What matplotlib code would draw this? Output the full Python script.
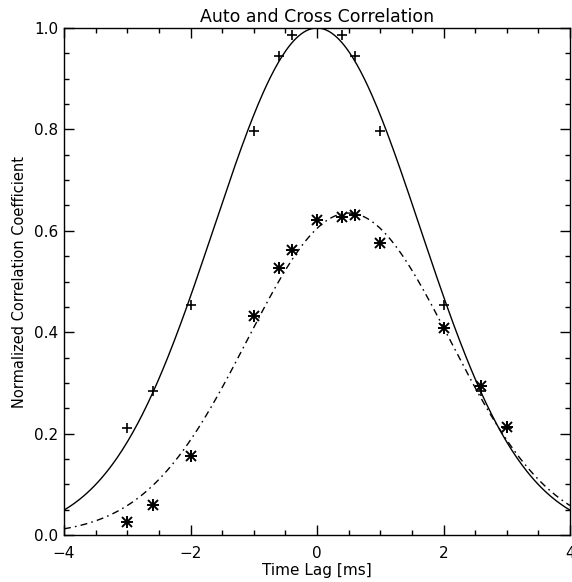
import numpy as np
import matplotlib
matplotlib.use("Agg")
import matplotlib.pyplot as plt
from matplotlib.ticker import MultipleLocator, FormatStrFormatter

# Data
auto_lag = [-3.0, -2.6, -2.0, -1.0, -0.6, -0.4, 0.4, 0.6, 1.0, 2.0, 2.6, 3.0]
auto_val = [0.212, 0.285, 0.454, 0.797, 0.945, 0.987, 0.987, 0.945, 0.797, 0.454, 0.285, 0.212]

cross_lag = [-3.0, -2.6, -2.0, -1.0, -0.6, -0.4, 0.0, 0.4, 0.6, 1.0, 2.0, 2.6, 3.0]
cross_val = [0.026, 0.060, 0.156, 0.431, 0.526, 0.563, 0.621, 0.628, 0.631, 0.575, 0.409, 0.293, 0.214]

# Gaussian fit parameters (amplitude, centre, width)
auto_fit = (1.0, 0.0, 1.629)
cross_fit = (0.635, 0.5, 1.60)

title = "Auto and Cross Correlation"
xlabel = "Time Lag [ms]"
ylabel = "Normalized Correlation Coefficient"

fig = plt.figure(figsize=(5.72, 5.82), dpi=100)
ax = fig.add_axes([64 / 572, 1 - 535 / 582, 506 / 572, 507 / 582])

xs = np.linspace(-4, 4, 400)
def gauss(x, p):
    a, m, s = p
    return a * np.exp(-((x - m) ** 2) / (2 * s ** 2))

ax.plot(xs, gauss(xs, auto_fit), color="black", lw=1.0)
ax.plot(xs, gauss(xs, cross_fit), color="black", lw=1.0, dashes=(5, 3, 1.2, 3))

ax.plot(auto_lag, auto_val, ls="none", marker="+", ms=7.5, mew=1.2, color="black")
ax.plot(cross_lag, cross_val, ls="none", marker="+", ms=8, mew=1.4, color="black")
ax.plot(cross_lag, cross_val, ls="none", marker="x", ms=6.5, mew=1.4, color="black")

ax.set_xlim(-4, 4)
ax.set_ylim(0, 1.0)
ax.xaxis.set_major_locator(MultipleLocator(2))
ax.xaxis.set_minor_locator(MultipleLocator(0.5))
ax.yaxis.set_major_locator(MultipleLocator(0.2))
ax.yaxis.set_minor_locator(MultipleLocator(0.05))
ax.yaxis.set_major_formatter(FormatStrFormatter("%.1f"))
ax.tick_params(which="both", direction="in", top=True, right=True, width=1, colors="black", labelsize=11)
ax.tick_params(which="major", length=7)
ax.tick_params(which="minor", length=3.8)
ax.tick_params(axis="x", pad=8)
ax.tick_params(axis="y", pad=4)
for sp in ax.spines.values():
    sp.set_linewidth(1.0)

ax.set_title(title, fontsize=12.5, pad=4)
ax.set_xlabel(xlabel, fontsize=11, labelpad=1)
ax.set_ylabel(ylabel, fontsize=10.5, labelpad=5)

fig.savefig("out.png", dpi=100, facecolor="white")
